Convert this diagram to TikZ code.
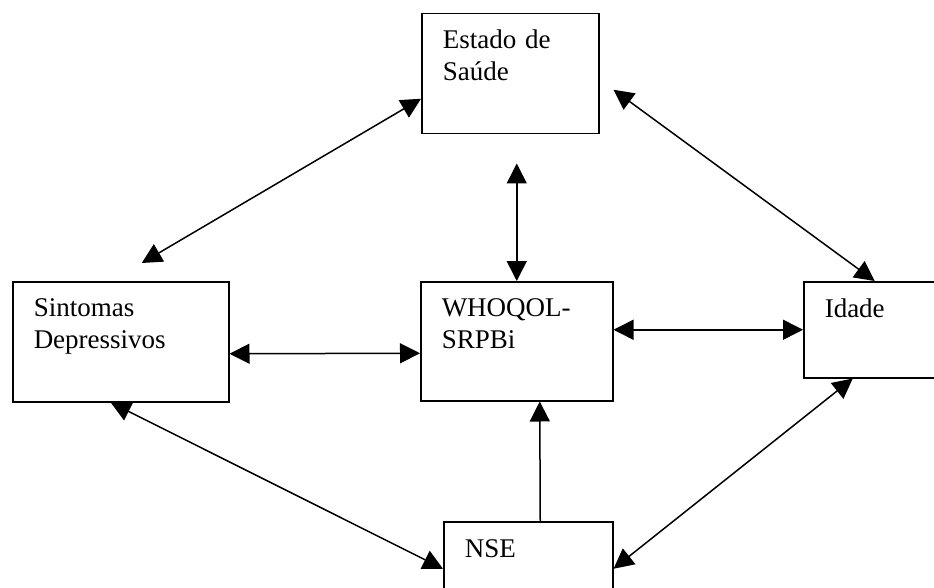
\documentclass[tikz,border=0pt]{standalone}
\usepackage{fontspec}
\setmainfont{Liberation Serif}
\usetikzlibrary{arrows.meta}

\begin{document}
\begin{tikzpicture}[x=1pt, y=-1pt,
    caixa/.style={draw, line width=1.5pt, fill=white, anchor=north west, align=left, inner xsep=21pt, inner ysep=0pt, font=\fontsize{27pt}{32pt}\selectfont},
    dupla/.style={{Triangle[length=20pt, width=20pt]}-{Triangle[length=20pt, width=20pt]}, line width=1.5pt},
    simples/.style={-{Triangle[length=20pt, width=20pt]}, line width=1.5pt}]
    \useasboundingbox (0, 0) rectangle (934, 588);
    \clip (0, 0) rectangle (934, 588);
    \node [caixa, text width=135pt, text height=35pt, text depth=85pt] (estado) at (421, 13) {Estado de\\Saúde};
    \node [caixa, text width=174pt, text height=35pt, text depth=85pt] (sintomas) at (12, 281) {Sintomas\\Depressivos};
    \node [caixa, text width=150pt, text height=35pt, text depth=84pt] (who) at (420, 281) {WHOQOL-\\SRPBi};
    \node [caixa, text width=118pt, text height=36pt, text depth=60pt] (idade) at (803, 281) {Idade};
    \node [caixa, text width=127pt, text height=36pt, text depth=58pt] (nse) at (443, 521) {NSE};
    \draw [dupla] ([yshift=-25pt]estado.west) to ([xshift=21pt, yshift=18pt]sintomas.north);
    \draw [dupla] ([xshift=6.5pt, yshift=-29pt]estado.south) to (who.north);
    \draw [dupla] ([xshift=14pt, yshift=-16pt]estado.east) to ([xshift=-9pt]idade.north);
    \draw [dupla] ([yshift=-12pt]sintomas.east) to ([yshift=-12pt]who.west);
    \draw [dupla] ([yshift=11.5pt]who.east) to (idade.west);
    \draw [dupla] ([xshift=-10pt]sintomas.south) to (nse.west);
    \draw [simples] ([xshift=12pt]nse.north) to ([xshift=23pt]who.south);
    \draw [dupla] (nse.east) to ([xshift=-31pt]idade.south);
\end{tikzpicture}
\end{document}
